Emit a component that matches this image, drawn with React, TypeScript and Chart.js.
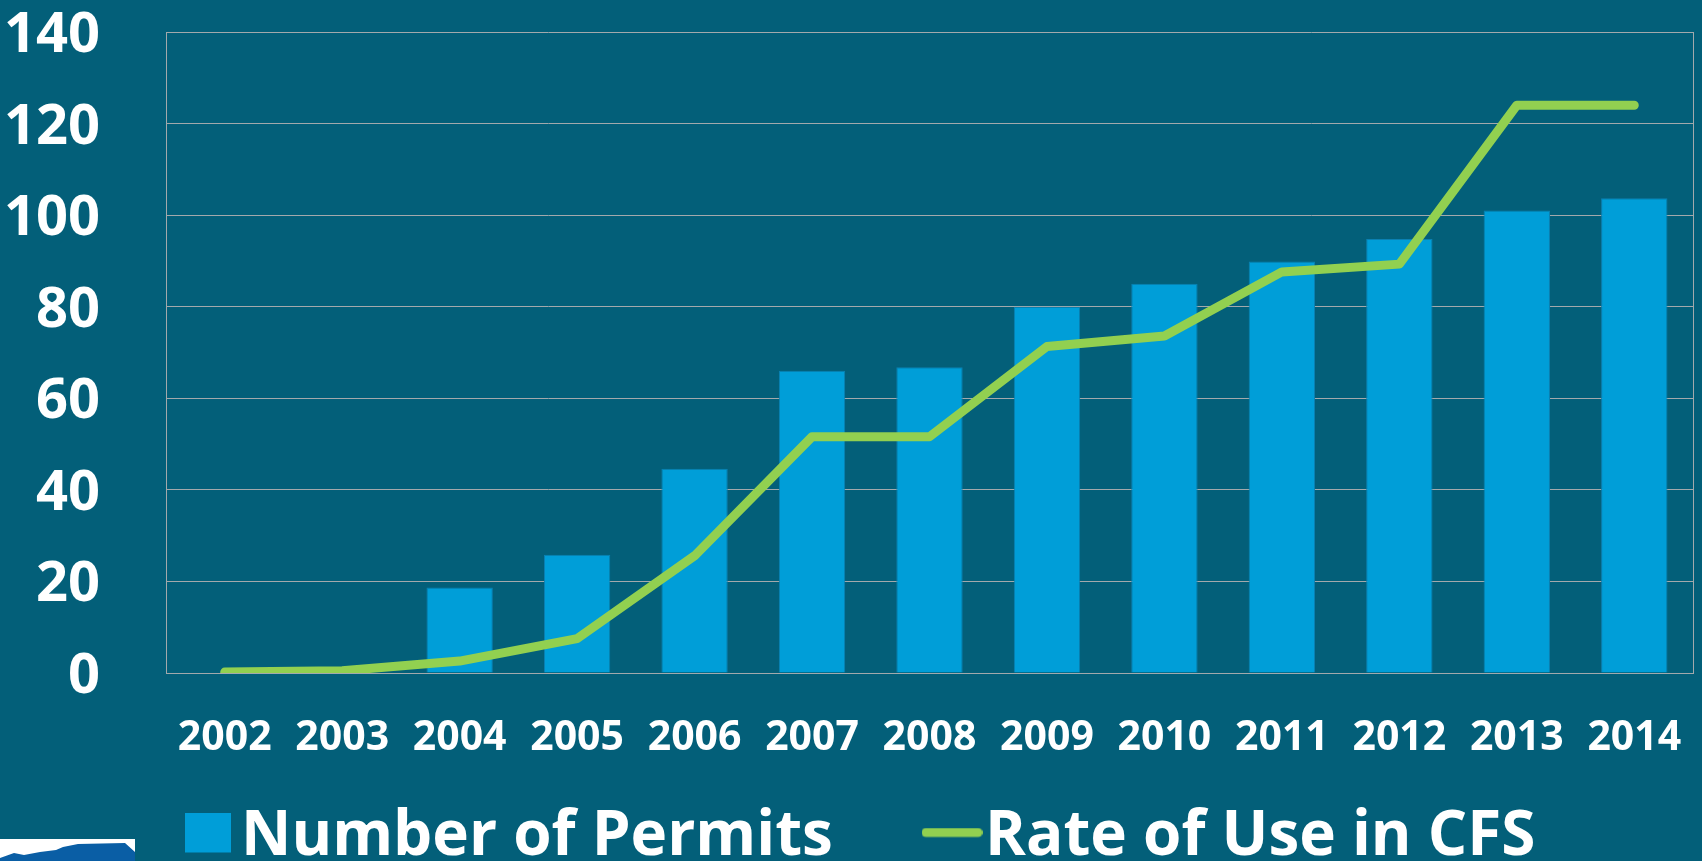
import React, { useEffect, useRef } from 'react';
import { Chart, registerables } from 'chart.js';

Chart.register(...registerables);

const years = ['2002', '2003', '2004', '2005', '2006', '2007', '2008', '2009', '2010', '2011', '2012', '2013', '2014'];
const permits = [0, 0, 18.7, 25.8, 44.6, 66.0, 66.8, 80.0, 85.0, 89.9, 94.8, 101.0, 103.7];
const rateCfs = [0.2, 0.5, 2.6, 7.5, 25.6, 51.6, 51.6, 71.3, 73.6, 87.6, 89.3, 124.0, 124.0];
const seriesNames = ['Number of Permits', 'Rate of Use in CFS'];
const yTickLabels = ['0', '20', '40', '60', '80', '100', '120', '140'];
const yMin = 0;
const yMax = 140;
const yStep = 20;

const FONT = '"Open Sans", "Noto Sans", sans-serif';
const BG = '#035F79';
const BAR = '#009ED8';
const BAR_EDGE = '#0B80B2';
const GREEN = '#92D050';
const GRID = '#A3A9AC';
const LEGEND_SIZE = 62;
const Y_SIZE = 56;
const X_SIZE = 41;
const BOX_W = 4;

function makeSquare(): HTMLCanvasElement {
  const c = document.createElement('canvas');
  c.width = 46;
  c.height = 49;
  const g = c.getContext('2d')!;
  g.fillStyle = BAR;
  g.fillRect(0, 0, 46, 40);
  return c;
}

function makeLine(): HTMLCanvasElement {
  const c = document.createElement('canvas');
  c.width = 61;
  c.height = 19;
  const g = c.getContext('2d')!;
  g.strokeStyle = GREEN;
  g.lineWidth = 9;
  g.lineCap = 'round';
  g.beginPath();
  g.moveTo(4.5, 5);
  g.lineTo(56.5, 5);
  g.stroke();
  return c;
}

export default function App() {
  const ref = useRef<HTMLCanvasElement | null>(null);

  useEffect(() => {
    if (!ref.current) return;
    const sq = makeSquare();
    const ln = makeLine();

    const mc = document.createElement('canvas').getContext('2d')!;
    mc.font = `bold ${LEGEND_SIZE}px ${FONT}`;
    const tw1 = mc.measureText(seriesNames[0]).width;
    const tw2 = mc.measureText(seriesNames[1]).width;
    mc.font = `bold ${Y_SIZE}px ${FONT}`;
    const widestY = Math.max(...yTickLabels.map((t) => mc.measureText(t).width));

    const plotLeft = 166;
    const plotRight = 1693;
    const plotTop = 32;
    const plotBottom = 673;
    const yLabelRight = 100;
    const bottomPad = -17;

    const half = LEGEND_SIZE / 2;
    const textGap = 744;
    const firstText = 241;
    const legendPad = Math.max(10, textGap - BOX_W - half - tw1);
    const x1 = firstText - BOX_W - half;
    const R = 2 * x1 + textGap + BOX_W + half + tw2;
    const rightPad = 1702 - R;
    const y2Width = R - plotRight;
    const legendTop = 861 - bottomPad - (LEGEND_SIZE + legendPad + 10);
    const xAxisHeight = legendTop - plotBottom;

    const chart = new Chart(ref.current, {
      type: 'bar',
      data: {
        labels: years,
        datasets: [
          {
            type: 'bar',
            label: seriesNames[0],
            data: permits,
            backgroundColor: BAR,
            borderColor: BAR_EDGE,
            borderWidth: 1,
            categoryPercentage: 1,
            barPercentage: 0.565,
            order: 1,
          },
          {
            type: 'line',
            label: seriesNames[1],
            data: rateCfs,
            borderColor: GREEN,
            backgroundColor: GREEN,
            borderWidth: 9,
            borderCapStyle: 'round',
            borderJoinStyle: 'round',
            pointRadius: 0,
            pointHoverRadius: 0,
            tension: 0,
            fill: false,
            order: 0,
          },
        ],
      },
      options: {
        responsive: false,
        animation: false,
        devicePixelRatio: 1,
        layout: { padding: { top: plotTop, left: 0, right: rightPad, bottom: bottomPad } },
        plugins: {
          tooltip: { enabled: false },
          legend: {
            display: true,
            position: 'bottom',
            labels: {
              usePointStyle: true,
              boxWidth: BOX_W,
              boxHeight: BOX_W,
              padding: legendPad,
              color: '#FFFFFF',
              font: { family: FONT, size: LEGEND_SIZE, weight: 'bold' },
              generateLabels: (c: any) => {
                const items = (Chart.defaults.plugins.legend.labels as any).generateLabels(c);
                return items
                  .sort((a: any, b: any) => a.datasetIndex - b.datasetIndex)
                  .map((it: any) => ({
                    ...it,
                    pointStyle: it.datasetIndex === 0 ? sq : ln,
                    fontColor: '#FFFFFF',
                    lineWidth: 0,
                    rotation: 0,
                  }));
              },
            },
          },
        },
        scales: {
          x: {
            offset: true,
            grid: { display: false, drawTicks: false },
            border: { display: true, color: GRID, width: 1 },
            ticks: {
              color: '#FFFFFF',
              mirror: true,
              padding: -90,
              font: { family: FONT, size: X_SIZE, weight: 'bold', lineHeight: 1.2 },
              maxRotation: 0,
              autoSkip: false,
            },
            afterFit: (s: any) => {
              s.height = xAxisHeight;
            },
          },
          y: {
            min: yMin,
            max: yMax,
            position: 'left',
            grid: { color: GRID, lineWidth: 1, drawTicks: false },
            border: { display: true, color: GRID, width: 1 },
            ticks: {
              stepSize: yStep,
              color: '#FFFFFF',
              mirror: true,
              crossAlign: 'far',
              padding: yLabelRight - plotLeft - widestY,
              labelOffset: 4,
              font: { family: FONT, size: Y_SIZE, weight: 'bold', lineHeight: 1.2 },
            },
            afterFit: (s: any) => {
              s.width = plotLeft;
            },
          },
          y2: {
            position: 'right',
            display: true,
            grid: { drawOnChartArea: false, drawTicks: false },
            border: { display: true, color: GRID, width: 1 },
            ticks: { display: false },
            afterFit: (s: any) => {
              s.width = y2Width;
            },
          },
        },
      },
    } as any);

    return () => {
      chart.destroy();
    };
  }, []);

  return (
    <div
      style={{
        position: 'absolute',
        left: 0,
        top: 0,
        width: 1702,
        height: 861,
        background: BG,
        overflow: 'hidden',
      }}
    >
      <canvas ref={ref} width={1702} height={861} style={{ display: 'block' }} />
      <div
        style={{
          position: 'absolute',
          left: 0,
          top: 839,
          width: 135,
          height: 22,
          background: '#FFFFFF',
        }}
      >
        <div
          style={{
            position: 'absolute',
            inset: 0,
            background: '#0A5EA5',
            clipPath:
              'polygon(0px 22px, 0px 19px, 14px 14px, 24px 16px, 40px 13px, 56px 11px, 63px 8px, 78px 5px, 125px 4px, 135px 13px, 135px 22px)',
          }}
        />
      </div>
    </div>
  );
}
